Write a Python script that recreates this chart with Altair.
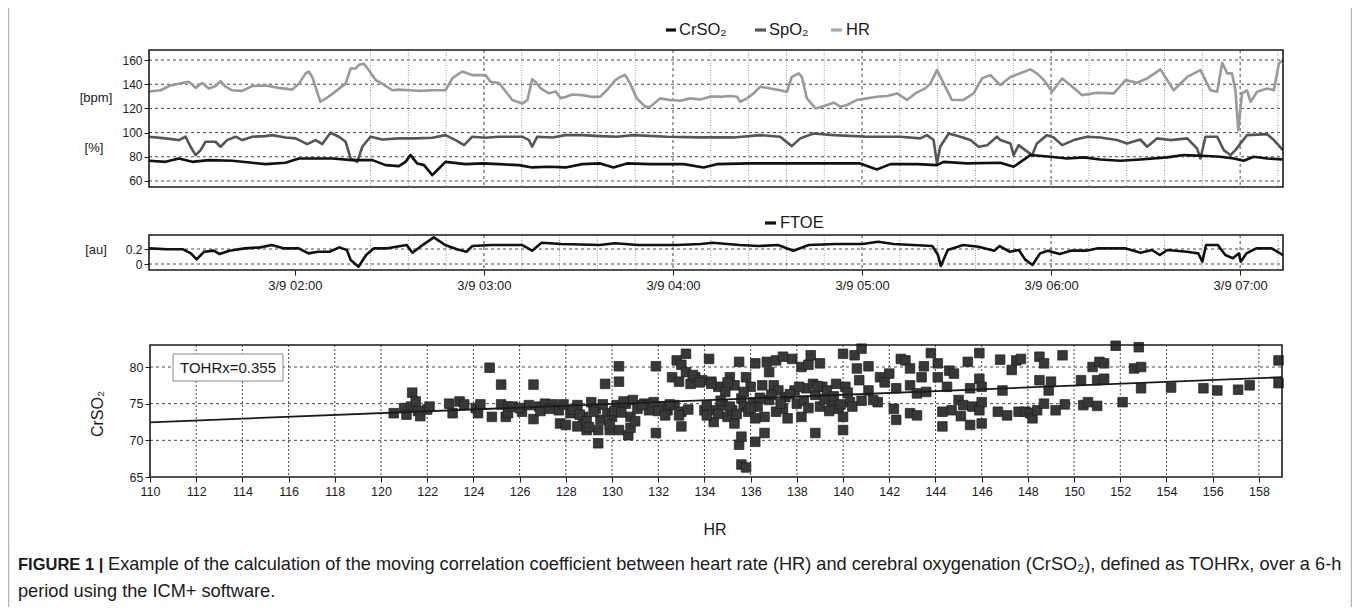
import altair as alt
import pandas as pd

# ---------------- time series (minutes after 3/9 01:00) ----------------
hr_min = [13.7,17.4,20.5,24.2,26.3,28.5,29.5,30.6,32.7,34.8,36.4,38.0,40.1,43.3,46.5,50.7,54.9,59.2,61.3,63.4,
          64.4,65.5,68.1,69.7,71.9,76.1,77.7,79.3,80.3,81.9,83.5,85.6,87.7,90.9,93.0,96.2,99.4,103.6,107.8,110.0,
          113.1,116.3,120.5,122.1,124.8,129.0,132.2,133.8,135.3,136.4,138.0,140.6,142.8,144.3,145.9,148.0,151.2,154.4,
          156.9,159.0,161.7,163.2,164.8,166.4,168.5,171.2,172.8,175.9,179.1,182.3,185.5,188.6,191.8,195.0,198.2,200.3,
          201.3,203.5,205.6,207.7,210.9,214.0,216.2,217.7,219.9,220.9,222.5,225.2,228.9,231.0,233.1,235.2,238.4,241.6,
          244.7,247.9,251.1,254.3,256.9,260.1,261.7,263.8,265.9,268.5,272.2,275.4,278.1,280.7,283.9,
          287.1,290.2,293.4,295.5,297.7,300.3,303.5,306.1,309.8,314.6,319.9,323.6,327.3,330.5,334.7,338.9,343.2,347.4,
          350.6,352.7,354.3,355.9,357.4,358.5,359.4,360.6,362.2,363.3,365.4,368.6,370.7,372.3,373.6]
hr_val = [134,135,139,141,142,137,139,141,136.5,138.5,142.5,138,135,134.5,138.5,139,137,135.5,140.5,149,
          150.5,146,125.5,128,132,140.5,153,153,156,157,151.5,143.5,140.5,135,135.5,135,134.5,135,135,145,
          150.5,147.5,147.5,142,141,127,124,127,144,142,136.5,132.5,134,128.5,129.5,131.5,131,129.5,
          129.7,135,143.4,146,147.6,140.7,128.3,121.4,121.4,128.3,127,126.3,128.3,127.4,129.7,129.7,130.2,129.7,
          125.5,128.3,132.4,138,136.5,135,133.8,146,149,146,128.3,120,122.8,124.7,121.4,122.8,127,128.3,
          129.7,130.2,132.4,127,132.4,136.5,140.7,151.7,140.7,127,127,132.4,144.8,147.6,139.3,
          146,149,152.3,149,143.4,133.8,144.8,139.3,131,133,132.4,143.4,141.2,144.8,152.3,135,146,151.7,
          135,133.8,157.8,149,149,135,102,132.4,135,125.5,133.8,136.5,135,157.2,160]

spo2_min = [13.7,18.9,23.2,25.3,26.9,28.5,30.1,31.6,34.8,36.4,38.5,41.2,43.3,46.5,50.7,52.8,57.0,60.2,63.9,66.6,
            68.7,71.3,74.0,76.1,77.7,79.8,81.4,84.0,87.7,93.0,98.3,103.6,107.8,111.0,113.7,116.3,120.5,124.8,132.2,134.3,
            135.3,136.9,141.7,145.9,151.2,
            156.9,162.2,167.5,178.1,188.6,199.2,207.7,214.0,217.7,220.4,224.6,231.0,241.6,252.1,258.5,260.6,262.7,263.8,
            264.8,267.5,271.2,274.4,277.0,279.7,282.8,
            283.9,287.1,288.1,289.7,291.8,294.0,295.5,298.7,300.8,303.5,307.2,311.4,315.6,320.9,324.1,328.3,330.5,333.6,
            337.9,343.2,346.3,347.4,349.0,352.7,354.8,356.9,358.5,360.1,362.2,368.6,370.7,373.6]
spo2_val = [96.6,95.2,93.8,96.6,88.3,81.4,85.5,92.4,92.4,88.3,93.8,96.6,93.8,96.6,97.1,97.9,96,95.2,90.5,93.8,
            90.5,99.9,96.6,92.4,78.6,75.8,88.3,96.6,94.3,95.2,95.2,95.7,97.9,93.8,89.6,96.6,95.7,96.6,96.6,93.8,
            88.3,96.6,96,97.9,97.9,
            97.1,96.6,97.9,96.6,96,96,97.9,96.6,88.8,95.2,99.3,97.9,96.6,96.6,95.2,97.9,93.8,74.5,
            88.3,99.3,96.6,93.8,88.3,89.6,96.6,
            93.8,91,81.4,89.6,85.5,81.4,91,97.9,96,89.6,93.8,96.6,96,93.8,91,94.3,88.3,95.2,
            93.8,95.2,86.9,78.6,96.6,96.6,85.5,81.4,85.5,91,97.9,98.7,93.8,85.5]

crso2_min = [13.7,18.9,23.2,27.4,32.7,40.1,46.5,50.7,57.0,61.3,71.9,78.2,84.6,88.8,93.0,95.1,96.7,98.8,101.0,103.6,
             105.7,107.8,114.2,119.5,124.8,131.1,135.3,140.6,145.9,151.2,
             156.9,161.1,165.4,172.8,183.4,189.7,193.9,204.5,215.1,225.7,239.4,244.7,249.0,257.4,263.8,265.9,273.3,
             283.9,288.1,
             293.4,299.8,305.1,310.4,315.6,322.0,328.3,336.8,342.1,349.5,353.7,358.0,361.1,364.3,368.6,373.6]
crso2_val = [76.7,75.8,78.6,75.8,77.2,76.7,75,73.9,75,78.6,78.6,77.2,77.2,73.1,72.3,75.8,81.4,74.5,73.1,64.8,
             70.3,75.8,73.9,74.5,73.9,73.1,71.2,71.7,71.2,73.9,
             74.5,71.2,74.5,73.9,73.9,71.2,73.9,74.5,74.5,74.5,74.5,69.5,73.9,73.9,73.1,75.8,74.5,
             75,71.7,
             81.4,80,78.6,79.5,77.8,76.7,77.8,79.5,81.4,80.6,80,78.6,76.7,80,78.6,77.8]

ftoe_min = [13.7,19.6,24.5,27.0,28.8,31.2,34.3,36.1,39.2,44.1,49.0,52.7,56.3,61.2,64.3,67.3,71.0,74.1,76.5,77.7,
            80.2,82.6,85.1,89.4,95.5,97.3,99.8,104.1,107.7,111.4,114.5,116.3,122.4,132.2,135.3,138.3,144.5,156.7,161.6,
            168.9,181.2,
            188.8,192.5,201.1,207.2,213.3,218.2,223.1,231.7,240.2,245.1,250.0,262.3,264.1,265.0,267.2,272.1,277.0,281.9,
            283.7,286.8,289.8,291.7,294.1,296.5,299.0,302.7,306.3,311.2,314.9,323.5,328.4,332.0,334.5,336.9,343.1,346.7,
            348.0,349.2,352.9,355.3,357.7,359.6,360.2,362.0,365.1,370.0,373.6]
ftoe_val = [0.209,0.196,0.196,0.142,0.062,0.164,0.178,0.133,0.178,0.209,0.222,0.253,0.209,0.209,0.142,0.164,0.164,
            0.222,0.187,0.053,-0.036,0.12,0.209,0.209,0.253,0.151,0.231,0.356,0.253,0.196,0.164,0.24,0.253,0.253,
            0.178,0.284,0.267,0.253,0.276,0.253,0.253,
            0.267,0.284,0.253,0.24,0.253,0.178,0.253,0.267,0.267,0.298,0.267,0.24,0.12,-0.027,0.187,0.253,0.231,
            0.178,0.24,0.164,0.187,0.062,-0.013,0.142,0.178,0.133,0.178,0.178,0.209,0.209,0.151,0.187,0.12,0.187,
            0.164,0.142,0.031,0.253,0.253,0.12,0.076,0.142,0.031,0.142,0.209,0.209,0.12]

# ---------------- scatter: (HR, CrSO2) ----------------
scatter_pts = [
    (120.55,73.7),(121.0,74.4),(121.35,76.5),(121.3,74.6),(121.5,75.3),(121.6,74.0),(121.7,73.3),(122.0,74.2),
    (122.1,74.6),(121.1,73.5),(123.1,73.7),(122.95,75.0),(123.4,75.3),(123.6,74.9),(124.1,74.4),(124.3,74.9),
    (124.2,73.7),(124.7,79.9),(124.8,73.2),(125.2,77.6),(125.2,74.9),(125.4,73.2),(125.5,74.6),
    (126.6,77.6),(125.5,73.7),(125.7,74.6),(126.1,73.9),(126.4,74.8),(126.6,72.9),(126.85,74.6),(127.1,75.0),
    (127.45,74.9),(127.7,74.1),(127.75,72.3),(128.0,72.1),(128.2,73.7),(128.5,74.8),(128.5,71.9),(128.75,73.2),
    (128.9,71.4),(129.1,75.2),(129.3,74.3),(129.4,71.4),(129.5,72.8),(129.4,69.6),(129.7,77.7),(129.8,73.7),
    (130.0,73.2),(129.9,71.4),(130.2,74.8),(130.3,80.1),(130.3,78.0),(130.3,71.4),(130.6,75.0),(130.7,70.7),
    (130.8,73.2),(130.9,75.5),(131.1,74.3),(131.4,75.0),(131.6,74.1),(131.9,80.1),(131.9,71.0),(132.2,74.6),
    (132.4,74.1),(132.6,78.6),(132.7,74.8),(132.8,80.9),(132.9,78.0),(133.0,80.3),(133.0,71.9),(133.0,73.9),
    (133.2,81.8),(133.2,79.3),(133.4,77.7),(133.6,78.6),(133.9,78.2),(134.0,74.1),(134.1,74.8),(134.2,81.1),
    (134.3,78.0),(134.4,72.5),(134.5,74.1),(134.6,77.3),(134.8,74.8),(134.9,76.6),(135.0,73.2),(135.1,78.6),
    (135.2,74.1),(135.3,72.3),(135.3,77.5),(135.5,80.7),(135.5,69.4),(135.6,75.7),(135.6,66.7),(135.6,70.5),
    (135.7,74.6),(135.8,66.3),(135.8,78.6),(135.9,73.9),(136.0,77.3),(136.1,75.2),(136.2,80.5),(136.2,69.8),
    (136.3,74.6),(136.5,77.5),(136.6,73.2),(136.6,71.0),(136.7,80.7),(136.8,79.3),(136.8,75.5),(137.0,77.5),
    (137.1,80.9),(137.2,76.8),(137.4,74.3),(137.4,81.4),(137.5,75.9),(137.6,73.0),(137.8,81.1),(137.9,76.8),
    (138.0,75.0),(138.2,80.0),(138.2,73.2),(138.4,77.1),(138.5,80.3),(138.6,81.6),(138.7,77.7),(138.8,76.2),
    (138.8,71.0),(139.0,80.5),(139.0,74.6),(139.1,77.3),(139.3,76.8),(139.5,75.0),(139.7,77.7),(139.8,74.3),
    (140.0,71.4),(140.0,73.2),(140.1,77.3),(140.0,81.8),(140.3,75.2),(140.5,81.6),(140.6,79.8),(140.7,78.2),
    (140.8,82.5),(141.1,80.1),(141.1,76.8),(141.5,75.2),(141.6,78.6),(142.0,79.1),(142.2,74.3),(142.3,77.1),
    (142.3,72.8),(142.5,81.1),
    (126.0,74.4),(126.9,74.0),(127.3,74.3),(127.9,74.9),(128.3,74.2),(128.6,73.5),(128.9,72.6),(129.0,71.8),
    (129.2,73.9),(129.6,74.9),(129.9,72.2),(130.1,74.0),(130.4,73.8),(130.5,75.3),(130.8,71.7),(131.0,72.6),
    (131.3,74.8),(131.8,75.2),(132.0,74.0),(132.3,73.4),(132.5,74.9),(132.9,73.4),(133.3,74.2),(133.5,78.9),
    (133.8,77.9),(134.1,73.4),(134.3,77.7),(134.6,73.6),(134.7,75.4),(135.0,77.9),(135.1,74.6),(135.4,73.6),
    (135.7,76.6),(136.0,74.4),(136.2,73.0),(136.4,75.8),(136.9,76.2),(137.1,73.9),(137.3,75.0),(137.7,76.3),
    (138.1,77.3),(138.3,75.4),(138.5,74.4),(138.9,77.4),(139.2,75.6),(139.4,74.0),(139.6,76.0),(139.9,74.9),
    (140.2,76.5),(140.4,74.6),(140.8,75.4),(141.3,75.5),(141.8,77.9),
    (142.7,80.9),(142.9,79.8),(142.9,77.5),(142.9,73.7),(143.2,73.4),(143.2,76.4),(143.4,78.6),(143.5,80.1),
    (143.6,76.6),(143.8,81.9),(144.1,80.5),(144.1,78.6),(144.3,73.9),(144.3,71.9),(144.5,77.3),(144.6,79.5),
    (144.7,74.1),(144.8,79.1),(145.0,75.5),(145.1,73.3),(145.2,74.8),(145.4,80.7),(145.5,77.1),(145.5,72.1),
    (145.6,74.6),(145.9,81.9),(145.9,74.1),(145.9,78.4),(146.0,75.2),(146.0,77.3),(146.0,72.3),(146.8,81.0),
    (146.7,73.9),(146.9,76.8),(147.1,73.4),(147.3,79.6),(147.5,80.9),(147.6,73.9),(147.7,81.1),(147.9,73.9),
    (148.1,73.7),(148.2,73.0),(148.4,74.1),(148.5,81.4),(148.5,78.2),(148.7,75.0),(148.7,80.5),(148.9,76.8),
    (149.0,78.0),(149.2,74.1),(149.5,81.6),(149.6,74.9),(150.3,78.2),(150.4,74.8),(150.6,75.2),(150.8,80.0),
    (151.0,74.7),(151.0,78.2),(151.1,80.7),(151.3,80.5),(151.3,78.4),(151.8,82.9),(152.1,75.2),(152.6,79.8),
    (152.8,82.7),(152.9,80.0),(152.9,77.1),(154.2,77.2),(155.6,77.1),(156.2,76.8),(157.1,76.9),(157.6,77.5),
    (158.85,77.8),(158.85,80.9)]
scat_hr = [p[0] for p in scatter_pts]
scat_cr = [p[1] for p in scatter_pts]

fit_hr = [110, 159]
fit_cr = [72.45, 78.6]

top_ticks = [60, 80, 100, 120, 140, 160]
ftoe_ticks = [0, 0.2]
scat_y_ticks = [65, 70, 75, 80]
scat_y_grid = [70, 75, 80]
scat_x_ticks = list(range(110, 159, 2))
hour_ticks = [2, 3, 4, 5, 6, 7]
grid_minutes = list(range(84, 373, 12))

# ---------------- helpers ----------------
BASE = pd.Timestamp("2017-03-09 01:00:00")


def iso(mins):
    return [(BASE + pd.Timedelta(minutes=float(m))).strftime("%Y-%m-%dT%H:%M:%S") for m in mins]


def dt(h, m=0, s=0):
    return alt.DateTime(year=2017, month=3, date=9, hours=h, minutes=m, seconds=s)


W, H = 1344, 599
FONT = "Liberation Sans"
INK = "#1a1a1a"

XT = alt.Scale(domain=[dt(1, 13, 42), dt(7, 13, 36)], range=[141, 1275], nice=False)
YTOP = alt.Scale(domain=[55, 168.3], range=[179, 42], nice=False, zero=False)
YF = alt.Scale(domain=[-0.08, 0.387], range=[262, 227], nice=False, zero=False)
XS = alt.Scale(domain=[110, 159], range=[142, 1274], nice=False, zero=False)
YS = alt.Scale(domain=[65, 83], range=[469, 337], nice=False, zero=False)

one = alt.Data(values=[{"a": 1}])


def hgrid(vals, yscale, x1, x2, dash, color, width=1.0):
    return alt.Chart(pd.DataFrame({"v": vals})).mark_rule(
        strokeDash=dash, color=color, strokeWidth=width).encode(
        y=alt.Y("v:Q", scale=yscale, axis=None), x=alt.value(x1), x2=alt.value(x2))


def vgrid_time(mins, y1, y2, dash, color, width=1.0):
    return alt.Chart(pd.DataFrame({"t": iso(mins)})).mark_rule(
        strokeDash=dash, color=color, strokeWidth=width).encode(
        x=alt.X("t:T", scale=XT, axis=None), y=alt.value(y1), y2=alt.value(y2))


def vgrid_q(vals, xscale, y1, y2, dash, color, width=1.0):
    return alt.Chart(pd.DataFrame({"v": vals})).mark_rule(
        strokeDash=dash, color=color, strokeWidth=width).encode(
        x=alt.X("v:Q", scale=xscale, axis=None), y=alt.value(y1), y2=alt.value(y2))


def frame(x1, x2, y1, y2, color=INK, width=1.6):
    return alt.Chart(one).mark_rect(fillOpacity=0, stroke=color, strokeWidth=width).encode(
        x=alt.value(x1), x2=alt.value(x2), y=alt.value(y1), y2=alt.value(y2))


def text(s, x, y, size, align="left", weight="normal", angle=0, color=INK):
    return alt.Chart(one).mark_text(text=s, align=align, baseline="middle", fontSize=size,
                                    fontWeight=weight, font=FONT, color=color, angle=angle).encode(
        x=alt.value(x), y=alt.value(y))


def dash(x1, x2, y, color):
    return alt.Chart(one).mark_rule(strokeWidth=3.2, color=color).encode(
        x=alt.value(x1), x2=alt.value(x2), y=alt.value(y))


def tline(mins, vals, color, yscale, yaxis=None, xaxis=None, width=2.6):
    df = pd.DataFrame({"t": iso(mins), "v": vals})
    return alt.Chart(df).mark_line(color=color, strokeWidth=width, strokeJoin="round").encode(
        x=alt.X("t:T", scale=XT, axis=xaxis), y=alt.Y("v:Q", scale=yscale, axis=yaxis))


def yaxis(values, offset, fmt=None, size=12):
    kw = dict(orient="left", offset=offset, values=values, grid=False, domain=False, tickSize=5,
              tickColor=INK, labelFont=FONT, labelFontSize=size, labelColor=INK, labelPadding=2,
              title=None)
    if fmt:
        kw["format"] = fmt
    return alt.Axis(**kw)


HR_C, SP_C, CR_C = "#9a9a9a", "#555555", "#111111"
minor_minutes = [m for m in grid_minutes if m % 60 != 0]
major_minutes = [m for m in grid_minutes if m % 60 == 0]

layers = []
# outer figure border
layers.append(alt.Chart(one).mark_rule(color="#b5b5b5", strokeWidth=1.2).encode(
    x=alt.value(0.6), y=alt.value(0), y2=alt.value(H)))
layers.append(alt.Chart(one).mark_rule(color="#b5b5b5", strokeWidth=1.2).encode(
    x=alt.value(W - 0.6), y=alt.value(0), y2=alt.value(H)))

# ---- top panel ----
layers += [
    hgrid(top_ticks, YTOP, 141, 1275, [3, 3], "#333", 0.9),
    vgrid_time(minor_minutes, 42, 179, [1, 1.5], "#9a9a9a", 1.0),
    vgrid_time(major_minutes, 42, 179, [3, 3], "#333", 0.9),
    tline(hr_min, hr_val, HR_C, YTOP, yaxis=yaxis(top_ticks, -141)),
    tline(spo2_min, spo2_val, SP_C, YTOP),
    tline(crso2_min, crso2_val, CR_C, YTOP),
    frame(141, 1275, 42, 179),
]

# ---- FTOE panel ----
time_axis = alt.Axis(orient="bottom", offset=262 - H, values=[dt(h) for h in hour_ticks],
                     format="%-m/%-d %H:%M", grid=False, domain=False, tickSize=5, tickColor=INK,
                     labelFont=FONT, labelFontSize=13, labelColor=INK, labelPadding=4,
                     labelFlush=False, title=None)
layers += [
    hgrid(ftoe_ticks, YF, 141, 1275, [3, 3], "#333", 0.9),
    vgrid_time(minor_minutes, 227, 262, [1, 1.5], "#9a9a9a", 1.0),
    vgrid_time(major_minutes, 227, 262, [3, 3], "#333", 0.9),
    tline(ftoe_min, ftoe_val, CR_C, YF, yaxis=yaxis(ftoe_ticks, -141, fmt="~g"), xaxis=time_axis),
    frame(141, 1275, 227, 262),
]

# ---- scatter panel ----
scat_df = pd.DataFrame({"hr": scat_hr, "cr": scat_cr})
fit_df = pd.DataFrame({"hr": fit_hr, "cr": fit_cr})
sx_axis = alt.Axis(orient="bottom", offset=469 - H, values=scat_x_ticks, grid=False, domain=False,
                   tickSize=5, tickColor=INK, labelFont=FONT, labelFontSize=12.5, labelColor=INK,
                   labelPadding=3, labelFlush=False, title=None)
layers += [
    hgrid(scat_y_grid, YS, 142, 1274, [3, 3], "#333", 0.9),
    vgrid_q(scat_x_ticks[1:], XS, 337, 469, [2, 2], "#333", 0.9),
    alt.Chart(scat_df).mark_square(size=92, color="#383838", opacity=1, stroke="#1e1e1e",
                                   strokeWidth=0.7).encode(
        x=alt.X("hr:Q", scale=XS, axis=sx_axis),
        y=alt.Y("cr:Q", scale=YS, axis=yaxis(scat_y_ticks, -142, size=12.5))),
    alt.Chart(fit_df).mark_line(color=INK, strokeWidth=1.8).encode(
        x=alt.X("hr:Q", scale=XS, axis=None), y=alt.Y("cr:Q", scale=YS, axis=None)),
    frame(142, 1274, 337, 469),
    alt.Chart(one).mark_rect(fill="white", stroke="#8a8a8a", strokeWidth=1).encode(
        x=alt.value(165), x2=alt.value(275), y=alt.value(346), y2=alt.value(373)),
    text("TOHRx=0.355", 220, 360, 15, align="center"),
]

# ---- legends, unit labels, titles, caption ----
layers += [
    dash(658, 668, 22, CR_C), text("CrSO\u2082", 671, 22, 16.5),
    dash(747, 758, 22, SP_C), text("SpO\u2082", 761, 22, 16.5),
    dash(823, 834, 22, "#a8a8a8"), text("HR", 838, 22, 16.5),
    dash(757, 768, 215, CR_C), text("FTOE", 772, 215, 16.5),
    text("[bpm]", 88, 90, 13, align="center"),
    text("[%]", 86, 140, 13, align="center"),
    text("[au]", 88, 242, 13, align="center"),
    text("CrSO\u2082", 90, 406, 16, align="center", angle=270),
    text("HR", 707, 522, 16, align="center"),
    text("FIGURE 1 |", 10, 557, 16.5, weight="bold"),
    text("Example of the calculation of the moving correlation coefficient between heart rate (HR) and "
         "cerebral oxygenation (CrSO\u2082), defined as TOHRx, over a 6-h", 100, 557, 18.2),
    text("period using the ICM+ software.", 10, 584, 18.2),
]

chart = alt.layer(*layers).resolve_scale(
    x="independent", y="independent").resolve_axis(
    x="independent", y="independent").properties(
    width=W, height=H, autosize=alt.AutoSizeParams(type="none"), padding=0).configure_view(
    stroke="transparent")

chart.save("out.html", embed_options={"renderer": "svg", "actions": False})
